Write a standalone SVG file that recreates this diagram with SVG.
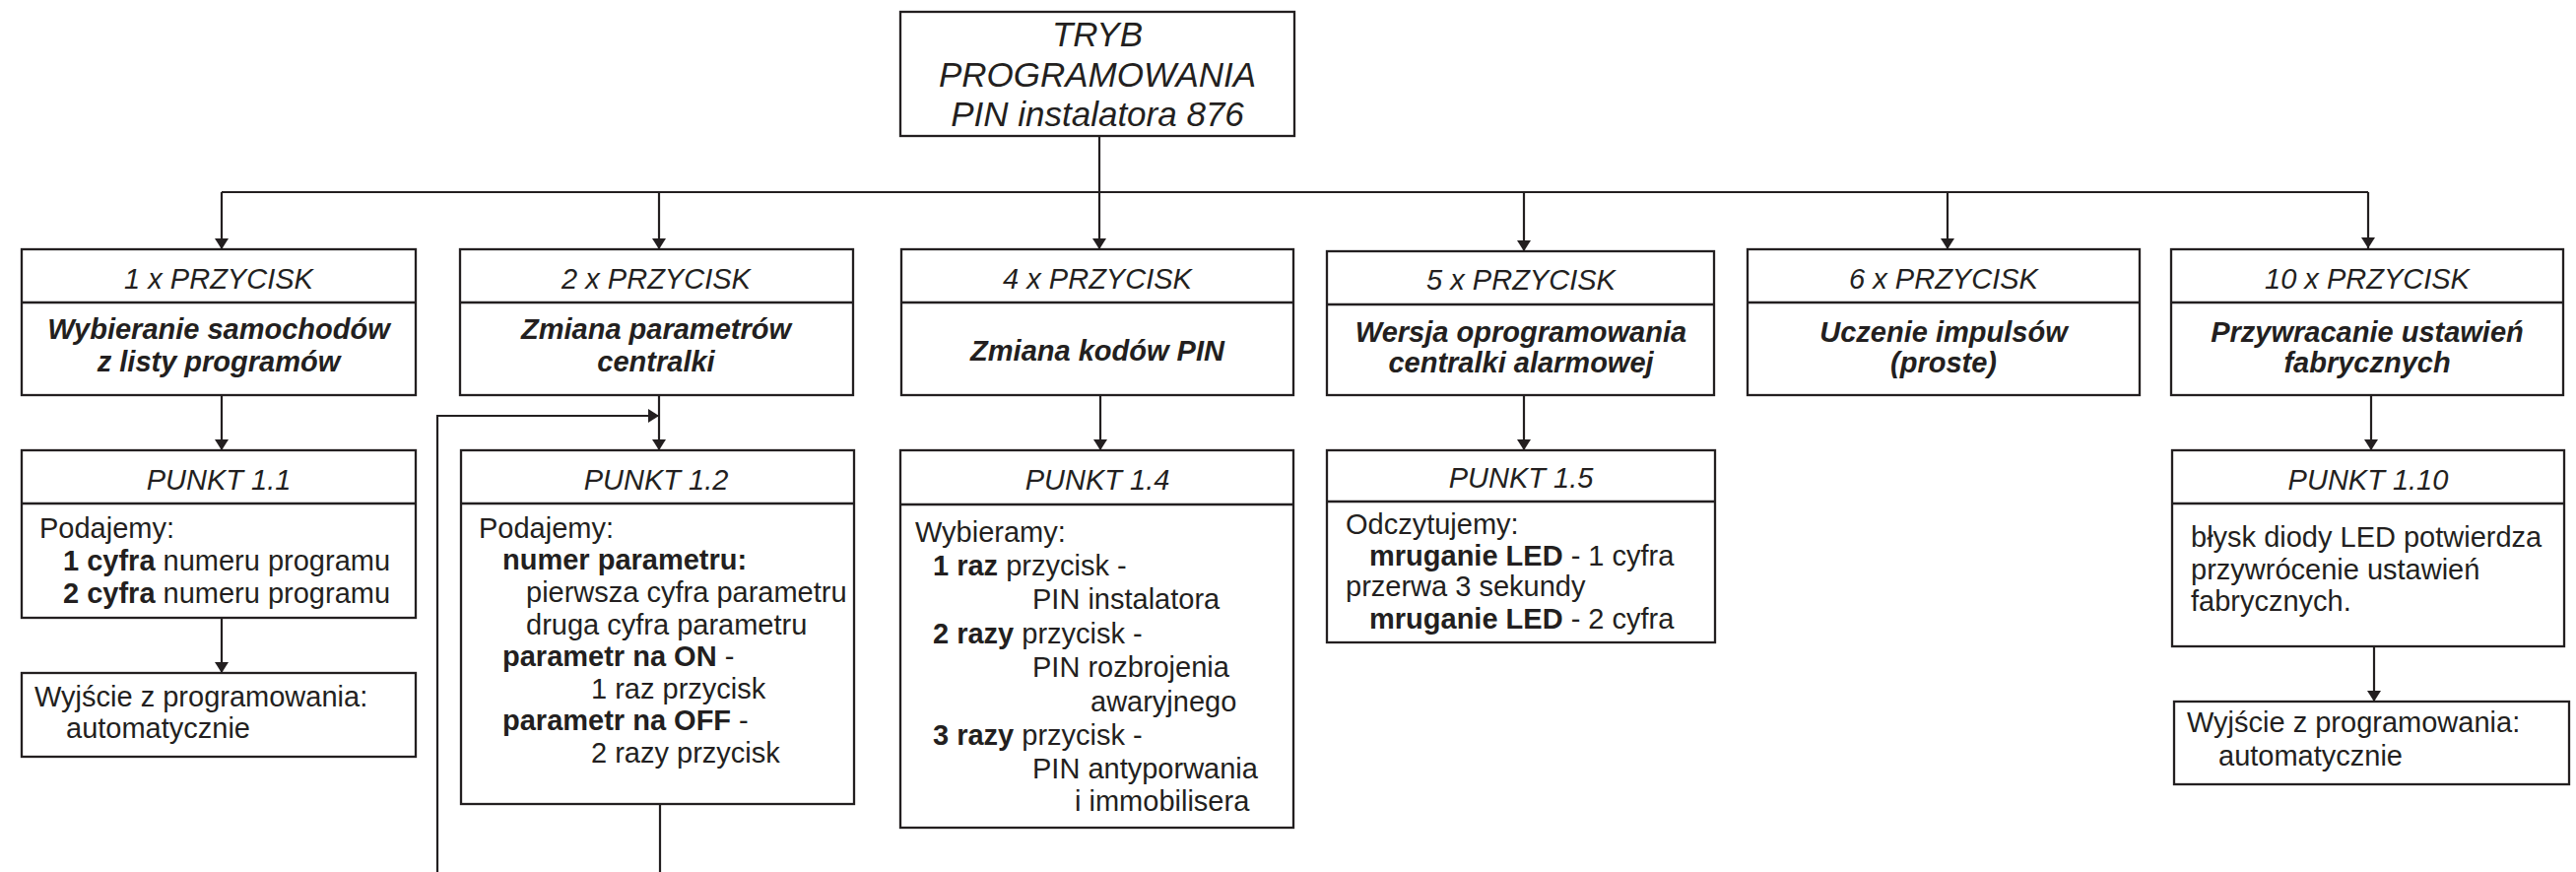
<svg xmlns="http://www.w3.org/2000/svg" width="2615" height="885" viewBox="0 0 2615 885">
<style>
.b{fill:#fff;stroke:#231f20;stroke-width:2.3}
.d{stroke:#231f20;stroke-width:2.6;fill:none}
.c{stroke:#231f20;stroke-width:2.2;fill:none}
text{font-family:"Liberation Sans",Arial,Helvetica,sans-serif;fill:#231f20}
.t{font-size:35px;font-style:italic;text-anchor:middle}
.h{font-size:29px;font-style:italic;text-anchor:middle}
.s{font-size:29px;font-style:italic;font-weight:bold;text-anchor:middle}
.p{font-size:29px}
.k{font-weight:bold}
</style>
<defs>
<marker id="ar" viewBox="0 0 11 14" refX="11" refY="7" markerWidth="11" markerHeight="14" markerUnits="userSpaceOnUse" orient="auto">
<path d="M0,0 L11,7 L0,14 z" fill="#231f20"/>
</marker>
</defs>
<rect width="2615" height="885" fill="#fff"/>

<g id="connectors">
<path class="c" d="M1116,138 V195"/>
<path class="c" d="M225,195 H2404"/>
<path class="c" d="M225,195 V253" marker-end="url(#ar)"/>
<path class="c" d="M669,195 V253" marker-end="url(#ar)"/>
<path class="c" d="M1116,195 V253" marker-end="url(#ar)"/>
<path class="c" d="M1547,195 V255" marker-end="url(#ar)"/>
<path class="c" d="M1977,195 V253" marker-end="url(#ar)"/>
<path class="c" d="M2404,195 V252" marker-end="url(#ar)"/>
<path class="c" d="M225,401 V457" marker-end="url(#ar)"/>
<path class="c" d="M669,401 V457" marker-end="url(#ar)"/>
<path class="c" d="M1117,401 V457" marker-end="url(#ar)"/>
<path class="c" d="M1547,401 V457" marker-end="url(#ar)"/>
<path class="c" d="M2407,401 V457" marker-end="url(#ar)"/>
<path class="c" d="M225,627 V683" marker-end="url(#ar)"/>
<path class="c" d="M2410,656 V712" marker-end="url(#ar)"/>
<path class="c" d="M444,885 V422 H669" marker-end="url(#ar)"/>
<path class="c" d="M670,816 V885"/>
</g>

<g id="top">
<rect class="b" x="914" y="12" width="400" height="126"/>
<text class="t" x="1114" y="47">TRYB</text>
<text class="t" x="1114" y="88">PROGRAMOWANIA</text>
<text class="t" x="1114" y="128">PIN instalatora 876</text>
</g>

<g id="btn1">
<rect class="b" x="22" y="253" width="400" height="148"/>
<path class="d" d="M22,307 H422"/>
<text class="h" x="222" y="293">1 x PRZYCISK</text>
<text class="s" x="222" y="344">Wybieranie samochodów</text>
<text class="s" x="222" y="377">z listy programów</text>
</g>

<g id="btn2">
<rect class="b" x="467" y="253" width="399" height="148"/>
<path class="d" d="M467,307 H866"/>
<text class="h" x="666" y="293">2 x PRZYCISK</text>
<text class="s" x="666" y="344">Zmiana parametrów</text>
<text class="s" x="666" y="377">centralki</text>
</g>

<g id="btn4">
<rect class="b" x="915" y="253" width="398" height="148"/>
<path class="d" d="M915,307 H1313"/>
<text class="h" x="1114" y="293">4 x PRZYCISK</text>
<text class="s" x="1114" y="366">Zmiana kodów PIN</text>
</g>

<g id="btn5">
<rect class="b" x="1347" y="255" width="393" height="146"/>
<path class="d" d="M1347,309 H1740"/>
<text class="h" x="1544" y="294">5 x PRZYCISK</text>
<text class="s" x="1544" y="347">Wersja oprogramowania</text>
<text class="s" x="1544" y="378">centralki alarmowej</text>
</g>

<g id="btn6">
<rect class="b" x="1774" y="253" width="398" height="148"/>
<path class="d" d="M1774,307 H2172"/>
<text class="h" x="1973" y="293">6 x PRZYCISK</text>
<text class="s" x="1973" y="347">Uczenie impulsów</text>
<text class="s" x="1973" y="378">(proste)</text>
</g>

<g id="btn10">
<rect class="b" x="2204" y="253" width="398" height="148"/>
<path class="d" d="M2204,307 H2602"/>
<text class="h" x="2403" y="293">10 x PRZYCISK</text>
<text class="s" x="2403" y="347">Przywracanie ustawień</text>
<text class="s" x="2403" y="378">fabrycznych</text>
</g>

<g id="p11">
<rect class="b" x="22" y="457" width="400" height="170"/>
<path class="d" d="M22,511 H422"/>
<text class="h" x="222" y="497">PUNKT 1.1</text>
<text class="p" x="40" y="546">Podajemy:</text>
<text class="p" x="64" y="579"><tspan class="k">1 cyfra</tspan> numeru programu</text>
<text class="p" x="64" y="612"><tspan class="k">2 cyfra</tspan> numeru programu</text>
</g>

<g id="exit1">
<rect class="b" x="22" y="683" width="400" height="85"/>
<text class="p" x="35" y="717">Wyjście z programowania:</text>
<text class="p" x="67" y="749">automatycznie</text>
</g>

<g id="p12">
<rect class="b" x="468" y="457" width="399" height="359"/>
<path class="d" d="M468,511 H867"/>
<text class="h" x="666" y="497">PUNKT 1.2</text>
<text class="p" x="486" y="546">Podajemy:</text>
<text class="p k" x="510" y="578">numer parametru:</text>
<text class="p" x="534" y="611">pierwsza cyfra parametru</text>
<text class="p" x="534" y="644">druga cyfra parametru</text>
<text class="p" x="510" y="676"><tspan class="k">parametr na ON</tspan> -</text>
<text class="p" x="600" y="709">1 raz przycisk</text>
<text class="p" x="510" y="741"><tspan class="k">parametr na OFF</tspan> -</text>
<text class="p" x="600" y="774">2 razy przycisk</text>
</g>

<g id="p14">
<rect class="b" x="914" y="457" width="399" height="383"/>
<path class="d" d="M914,512 H1313"/>
<text class="h" x="1114" y="497">PUNKT 1.4</text>
<text class="p" x="929" y="550">Wybieramy:</text>
<text class="p" x="947" y="584"><tspan class="k">1 raz</tspan> przycisk -</text>
<text class="p" x="1048" y="618">PIN instalatora</text>
<text class="p" x="947" y="653"><tspan class="k">2 razy</tspan> przycisk -</text>
<text class="p" x="1048" y="687">PIN rozbrojenia</text>
<text class="p" x="1107" y="722">awaryjnego</text>
<text class="p" x="947" y="756"><tspan class="k">3 razy</tspan> przycisk -</text>
<text class="p" x="1048" y="790">PIN antyporwania</text>
<text class="p" x="1091" y="823">i immobilisera</text>
</g>

<g id="p15">
<rect class="b" x="1347" y="457" width="394" height="195"/>
<path class="d" d="M1347,509 H1741"/>
<text class="h" x="1544" y="495">PUNKT 1.5</text>
<text class="p" x="1366" y="542">Odczytujemy:</text>
<text class="p" x="1390" y="574"><tspan class="k">mruganie LED</tspan> - 1 cyfra</text>
<text class="p" x="1366" y="605">przerwa 3 sekundy</text>
<text class="p" x="1390" y="638"><tspan class="k">mruganie LED</tspan> - 2 cyfra</text>
</g>

<g id="p110">
<rect class="b" x="2205" y="457" width="398" height="199"/>
<path class="d" d="M2205,511 H2603"/>
<text class="h" x="2404" y="497">PUNKT 1.10</text>
<text class="p" x="2224" y="555">błysk diody LED potwierdza</text>
<text class="p" x="2224" y="588">przywrócenie ustawień</text>
<text class="p" x="2224" y="620">fabrycznych.</text>
</g>

<g id="exit10">
<rect class="b" x="2207" y="712" width="401" height="84"/>
<text class="p" x="2220" y="743">Wyjście z programowania:</text>
<text class="p" x="2252" y="777">automatycznie</text>
</g>
</svg>
